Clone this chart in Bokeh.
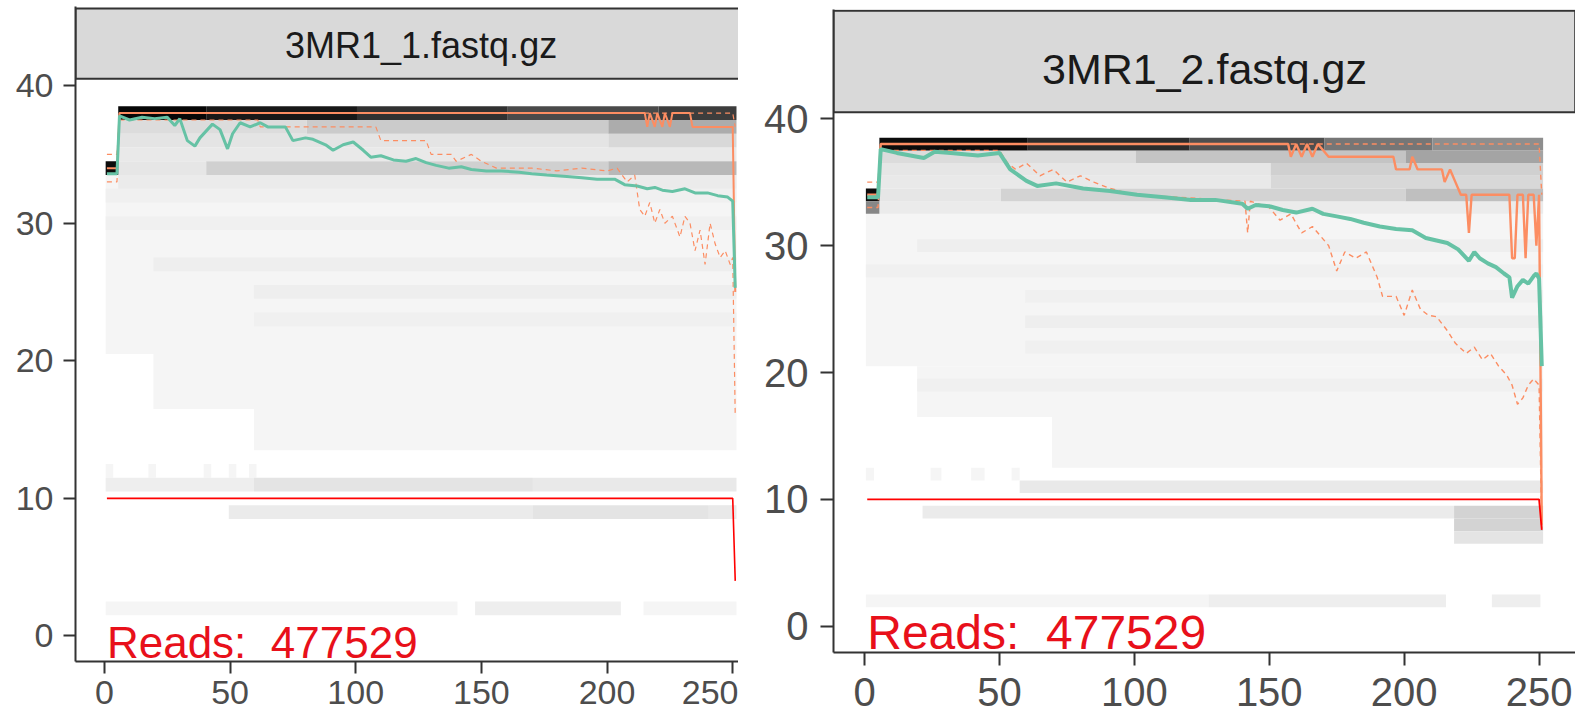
from bokeh.plotting import figure
from bokeh.models import Range1d, FixedTicker, ColumnDataSource
from bokeh.layouts import row, column
from bokeh.embed import file_html
from bokeh.resources import INLINE
from bokeh.core.properties import value

# ---------------- data ----------------
titles = ["3MR1_1.fastq.gz", "3MR1_2.fastq.gz"]
read_counts = [477529, 477529]
x_ticks = [0, 50, 100, 150, 200, 250]
y_ticks = [0, 10, 20, 30, 40]

# panel 1 (3MR1_1)
L_mean_cycle = [1, 5, 6, 10, 15, 20, 25, 28, 30, 33, 36, 38, 43, 46, 49, 51, 54, 58, 62, 65,
                72, 75, 80, 83, 88, 91, 95, 99, 103, 106, 110, 115, 120, 124, 128, 132, 137, 142, 146, 152,
                158, 165, 170, 176, 184, 190, 196, 203, 207, 212, 216, 219, 222, 226, 231, 235, 240, 244, 248, 250, 251]
L_mean_q = [33.6, 33.6, 37.8, 37.5, 37.7, 37.6, 37.7, 37.1, 37.6, 36.0, 35.6, 36.2, 37.2, 36.8, 35.4, 36.5, 37.3, 37.0, 37.3, 37.0,
            37.0, 36.0, 36.2, 36.1, 35.7, 35.3, 35.7, 35.9, 35.3, 34.8, 34.9, 34.6, 34.5, 34.7, 34.4, 34.2, 34.0, 34.1, 33.9, 33.8,
            33.8, 33.7, 33.6, 33.5, 33.4, 33.3, 33.2, 33.2, 32.8, 32.7, 32.5, 32.6, 32.4, 32.3, 32.5, 32.2, 32.2, 32.0, 31.9, 31.6, 25.3]
L_median_cycle = [1, 5, 6, 215, 216, 217, 219, 220, 222, 223, 225, 226, 233, 234, 250, 251]
L_median_q = [34, 34, 38, 38, 37, 38, 37, 38, 37, 38, 37, 38, 38, 37, 37, 25]
L_q25_cycle = [1, 5, 6, 61, 62, 108, 110, 128, 130, 138, 140, 146, 150, 156, 170, 180, 190, 200, 204, 208,
               211, 213, 215, 217, 219, 221, 223, 226, 229, 231, 233, 235, 237, 239, 241, 243, 245, 247, 249, 250, 251]
L_q25_q = [33, 33, 37.5, 37.5, 37, 37, 36, 36, 35, 35, 34.5, 35, 34.5, 34, 34, 33.8, 34, 33.8, 34, 33,
           33.5, 31, 30.5, 31.5, 30, 31, 30, 30.5, 29, 30.5, 30, 28, 29.5, 27, 30, 28.5, 27.5, 28, 27, 27.5, 16]
L_q75_cycle = [1, 5, 6, 250, 251]
L_q75_q = [35, 35, 38, 38, 37]
L_prop_cycle = [1, 250, 251]
L_prop_q = [10, 10, 4]
# heat-map blocks: score range, cycle range, shade (0 = #F5F5F5, 1 = black)
L_tile_qlo = [21, 17, 14, 27, 25, 23, 30, 32, 33, 35, 36, 36, 37, 37, 37, 34, 34, 34, 34, 38, 38, 38, 38, 38,
              12, 12, 12, 12, 12, 11, 11, 11, 9, 9, 9, 2, 2, 2]
L_tile_qhi = [33, 20, 16, 27, 25, 23, 30, 32, 33, 35, 36, 36, 37, 37, 37, 34, 34, 34, 34, 38, 38, 38, 38, 38,
              12, 12, 12, 12, 12, 11, 11, 11, 9, 9, 9, 2, 2, 2]
L_tile_clo = [1, 20, 60, 20, 60, 60, 1, 1, 6, 6, 6, 201, 6, 81, 201, 6, 41, 201, 1, 6, 41, 101, 161, 221,
              1, 18, 40, 50, 58, 1, 60, 171, 50, 171, 241, 1, 148, 215]
L_tile_chi = [251, 251, 251, 251, 251, 251, 251, 251, 251, 251, 200, 251, 80, 200, 251, 40, 200, 251, 5, 40, 100, 160, 220, 251,
              3, 20, 42, 52, 60, 59, 170, 251, 170, 240, 251, 140, 205, 251]
L_tile_shade = [0.0, 0.0, 0.0, 0.03, 0.03, 0.02, 0.02, 0.02, 0.04, 0.05, 0.07, 0.12, 0.10, 0.17, 0.30, 0.06, 0.15, 0.25, 0.95,
                0.97, 0.90, 0.80, 0.70, 0.75,
                0.0, 0.0, 0.0, 0.0, 0.0, 0.03, 0.07, 0.05, 0.04, 0.07, 0.05, 0.0, 0.03, 0.0]

# panel 2 (3MR1_2)
R_mean_cycle = [1, 5, 6, 12, 22, 26, 32, 42, 50, 54, 60, 64, 71, 81, 91, 101, 111, 121, 130, 140,
                142, 145, 150, 155, 160, 166, 170, 175, 180, 185, 191, 197, 203, 208, 212, 216, 220, 224, 226, 228,
                231, 234, 237, 239, 240, 242, 244, 246, 248, 249, 250, 251]
R_mean_q = [33.8, 33.8, 37.6, 37.3, 36.9, 37.4, 37.3, 37.1, 37.3, 36.0, 35.1, 34.7, 34.9, 34.5, 34.3, 34.0, 33.8, 33.6, 33.6, 33.3,
            32.9, 33.2, 33.1, 32.8, 32.6, 32.9, 32.5, 32.3, 32.1, 31.8, 31.5, 31.3, 31.2, 30.6, 30.4, 30.2, 29.7, 28.8, 29.5, 29.0,
            28.6, 28.3, 27.8, 27.5, 25.9, 26.8, 27.3, 27.0, 27.6, 27.8, 27.4, 20.5]
R_median_cycle = [1, 5, 6, 157, 158, 160, 162, 164, 166, 168, 172, 196, 197, 202, 203, 205, 214, 215, 217, 219,
                  221, 223, 224, 225, 239, 240, 241, 242, 244, 245, 246, 248, 249, 250, 251]
R_median_q = [34, 34, 38, 38, 37, 38, 37, 38, 37, 38, 37, 37, 36, 36, 37, 36, 36, 35, 36, 35,
              34, 34, 31, 34, 34, 29, 29, 34, 34, 29, 34, 34, 30, 34, 8]
R_q25_cycle = [1, 5, 6, 50, 53, 56, 60, 65, 70, 75, 80, 85, 91, 100, 141, 142, 143, 150, 154, 158,
               162, 166, 172, 175, 178, 182, 186, 190, 192, 197, 200, 203, 206, 209, 212, 216, 219, 223, 226, 229,
               232, 235, 238, 240, 242, 244, 246, 248, 250, 251]
R_q25_q = [33, 33, 37.5, 37.5, 36.5, 36, 36.5, 35.5, 36, 35, 35.5, 35, 34.5, 34, 33.5, 31, 33.5, 33, 32, 32.5,
           31, 31.5, 30, 28, 29.5, 29, 29.5, 27.5, 26, 26, 24.5, 26.5, 25, 24.5, 24.4, 23.3, 22.3, 21.5, 22, 21,
           21.5, 20.5, 19.8, 19, 17.5, 18, 19, 19.5, 19, 7.6]
R_q75_cycle = [1, 5, 6, 250, 251]
R_q75_q = [35, 35, 38, 38, 34]
R_prop_cycle = [1, 250, 251]
R_prop_q = [10, 10, 7.6]
R_tile_qlo = [21, 17, 13, 30, 28, 26, 24, 22, 19, 33, 35, 35, 36, 36, 37, 37, 37, 34, 34, 34, 34, 33,
              38, 38, 38, 38, 38, 12, 12, 12, 12, 11, 9, 9, 8, 7, 2, 2, 2]
R_tile_qhi = [33, 20, 16, 30, 28, 26, 24, 22, 19, 33, 35, 35, 36, 36, 37, 37, 37, 34, 34, 34, 34, 33,
              38, 38, 38, 38, 38, 12, 12, 12, 12, 11, 9, 9, 8, 7, 2, 2, 2]
R_tile_clo = [1, 20, 70, 20, 1, 60, 60, 60, 20, 6, 6, 151, 6, 151, 6, 101, 201, 6, 51, 201, 1, 1,
              6, 61, 121, 171, 211, 1, 25, 40, 55, 58, 22, 219, 219, 219, 1, 128, 233]
R_tile_chi = [251, 251, 251, 251, 251, 251, 251, 251, 251, 251, 150, 251, 150, 251, 100, 200, 251, 50, 200, 251, 5, 5,
              60, 120, 170, 210, 251, 3, 28, 44, 57, 251, 218, 251, 251, 251, 127, 215, 250]
R_tile_shade = [0.0, 0.0, 0.0, 0.03, 0.02, 0.02, 0.03, 0.02, 0.02, 0.04, 0.05, 0.12, 0.06, 0.15, 0.10, 0.20, 0.33,
                0.06, 0.14, 0.22, 0.95, 0.45,
                0.95, 0.82, 0.68, 0.52, 0.42, 0.0, 0.0, 0.0, 0.0, 0.05, 0.04, 0.14, 0.14, 0.07, 0.0, 0.03, 0.03]

FONT = "Liberation Sans"
GREEN = "#66C2A5"
ORANGE = "#FC8D62"


def shade_color(s):
    v = int(round(245 * (1 - s)))
    return "#%02x%02x%02x" % (v, v, v)


def make_panel(cfg, title, reads, tiles, mean, median, q25, q75, prop):
    p = figure(width=cfg["width"], height=727,
               x_range=Range1d(-11.5, cfg["x_end"]),
               y_range=Range1d(cfg["y_start"], cfg["y_end"]),
               output_backend="svg", toolbar_location=None, title_location=None,
               min_border_left=cfg["b_left"], min_border_right=0,
               min_border_top=cfg["b_top"], min_border_bottom=cfg["b_bottom"])
    p.outline_line_color = None
    p.grid.visible = False
    p.background_fill_color = "white"
    p.border_fill_color = "white"

    for ax, ticks in ((p.xaxis, x_ticks), (p.yaxis, y_ticks)):
        ax.ticker = FixedTicker(ticks=ticks)
        ax.axis_line_color = "#333333"
        ax.axis_line_width = 2
        ax.major_tick_line_color = "#333333"
        ax.major_tick_line_width = 2
        ax.major_tick_out = cfg["tick_out"]
        ax.major_tick_in = 0
        ax.minor_tick_line_color = None
        ax.major_label_text_font = FONT
        ax.major_label_text_font_size = cfg["tick_font"]
        ax.major_label_text_color = "#4D4D4D"
    p.xaxis.major_label_standoff = cfg["x_standoff"]
    p.yaxis.major_label_standoff = cfg["y_standoff"]

    qlo, qhi, clo, chi, sh = tiles
    src = ColumnDataSource(dict(
        left=[c - 0.5 for c in clo], right=[c + 0.5 for c in chi],
        bottom=[q - 0.5 for q in qlo], top=[q + 0.5 for q in qhi],
        color=[shade_color(s) for s in sh]))
    p.quad(left="left", right="right", bottom="bottom", top="top", source=src,
           fill_color="color", line_color=None)

    p.line(q25[0], q25[1], line_color=ORANGE, line_width=cfg["dash_w"], line_dash="5 4")
    p.line(q75[0], q75[1], line_color=ORANGE, line_width=cfg["dash_w"], line_dash="5 4")
    p.line(median[0], median[1], line_color=ORANGE, line_width=cfg["med_w"])
    p.line(mean[0], mean[1], line_color=GREEN, line_width=cfg["mean_w"])
    p.line(prop[0], prop[1], line_color="red", line_width=cfg["prop_w"])

    # strip
    p.quad(left=[-11.5], right=[cfg["strip_right"]], bottom=[40.5], top=[cfg["strip_top"]],
           fill_color="#D9D9D9", line_color="#333333", line_width=2)
    p.text(x=[126], y=[cfg["title_y"]], text=[title], text_align="center",
           text_baseline="alphabetic", text_font=value(FONT),
           text_font_size=cfg["title_font"], text_color="#1A1A1A")

    p.text(x=[1], y=[cfg["reads_y"]], text=["Reads:\u00a0\u00a0%d" % reads], text_align="left",
           text_baseline="alphabetic", text_font=value(FONT),
           text_font_size=cfg["reads_font"], text_color="#E8101A")
    return p


cfg_left = dict(width=738, x_end=252.3, y_start=-1.86, y_end=45.75, b_left=75, b_top=6, b_bottom=66,
                tick_out=12, tick_font="34px", x_standoff=7, y_standoff=10,
                dash_w=1.2, med_w=2, mean_w=3, prop_w=1.6,
                strip_right=300, strip_top=45.6, title_y=42.9, title_font="36px",
                reads_y=-0.45, reads_font="44px")
cfg_right = dict(width=837, x_end=263.5, y_start=-2.06, y_end=48.6, b_left=95, b_top=9, b_bottom=75,
                 tick_out=13, tick_font="40px", x_standoff=12, y_standoff=12,
                 dash_w=1.4, med_w=2.4, mean_w=4, prop_w=1.8,
                 strip_right=263.4, strip_top=48.5, title_y=43.95, title_font="43px",
                 reads_y=-0.5, reads_font="48px")

p1 = make_panel(cfg_left, titles[0], read_counts[0],
                (L_tile_qlo, L_tile_qhi, L_tile_clo, L_tile_chi, L_tile_shade),
                (L_mean_cycle, L_mean_q), (L_median_cycle, L_median_q),
                (L_q25_cycle, L_q25_q), (L_q75_cycle, L_q75_q), (L_prop_cycle, L_prop_q))
p2 = make_panel(cfg_right, titles[1], read_counts[1],
                (R_tile_qlo, R_tile_qhi, R_tile_clo, R_tile_chi, R_tile_shade),
                (R_mean_cycle, R_mean_q), (R_median_cycle, R_median_q),
                (R_q25_cycle, R_q25_q), (R_q75_cycle, R_q75_q), (R_prop_cycle, R_prop_q))

layout = row(column(p1), column(p2), spacing=0)
open("out.html", "w").write(file_html(layout, INLINE))
